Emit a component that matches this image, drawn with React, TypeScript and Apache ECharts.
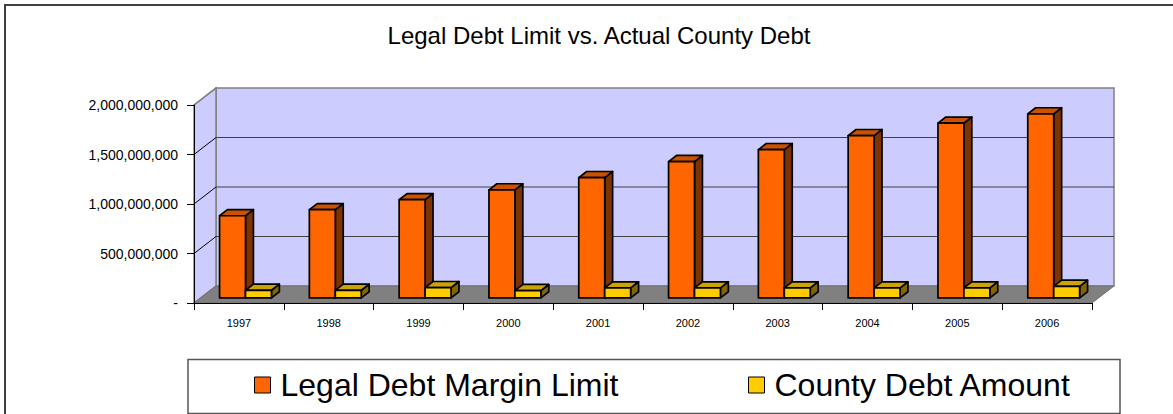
import React, { useEffect, useRef } from "react";
import * as echarts from "echarts";

const years = ["1997", "1998", "1999", "2000", "2001", "2002", "2003", "2004", "2005", "2006"];
const legalDebtMarginLimit = [830e6, 891e6, 992e6, 1091e6, 1215e6, 1377e6, 1498e6, 1639e6, 1765e6, 1859e6];
const countyDebtAmount = [77e6, 77e6, 104e6, 74e6, 101e6, 101e6, 101e6, 101e6, 101e6, 117e6];
const yTicks = [0, 500e6, 1000e6, 1500e6, 2000e6];

const SERIES_A = "Legal Debt Margin Limit";
const SERIES_B = "County Debt Amount";

// 3D projection constants (visual styling)
const DX = 22;
const DY = -17;
const BAR_F0 = 0.3;
const BAR_FD = 0.36;
const BAR_W = 26 / 90;
const FONT = "'Liberation Sans', Arial, sans-serif";

const faces = {
  a: { front: "#FF6600", top: "#CC5200", side: "#7F3300" },
  b: { front: "#FFCC00", top: "#CCA300", side: "#806600" },
};

function wallsRender(params: any, api: any) {
  const cs = params.coordSys;
  const x0 = cs.x;
  const x1 = cs.x + cs.width;
  const yT = cs.y;
  const yB = cs.y + cs.height;
  const children: any[] = [];
  children.push({
    type: "polygon",
    shape: { points: [[x0 + DX, yT + DY], [x1 + DX, yT + DY], [x1 + DX, yB + DY], [x0 + DX, yB + DY]] },
    style: { fill: "#CCCCFF", stroke: "#808080", lineWidth: 1.5 },
  });
  children.push({
    type: "polygon",
    shape: { points: [[x0, yB], [x0, yT], [x0 + DX, yT + DY], [x0 + DX, yB + DY]] },
    style: { fill: "#CCCCFF", stroke: "#808080", lineWidth: 1.5 },
  });
  children.push({
    type: "polygon",
    shape: { points: [[x0, yB], [x1, yB], [x1 + DX, yB + DY], [x0 + DX, yB + DY]] },
    style: { fill: "#808080", stroke: "#707070", lineWidth: 1 },
  });
  const maxV = yTicks[yTicks.length - 1];
  yTicks.forEach((v) => {
    const y = api.coord([0, v])[1];
    if (v > 0 && v < maxV) {
      children.push({
        type: "line",
        shape: { x1: x0 + DX, y1: y + DY, x2: x1 + DX, y2: y + DY },
        style: { stroke: "#404040", lineWidth: 1 },
      });
    }
    if (v > 0) {
      children.push({
        type: "line",
        shape: { x1: x0, y1: y, x2: x0 + DX, y2: y + DY },
        style: { stroke: v === maxV ? "#808080" : "#000", lineWidth: v === maxV ? 1.5 : 1 },
      });
    }
  });
  return { type: "group", children };
}

function makeBarRender(which: "a" | "b") {
  return (params: any, api: any) => {
    const idx = api.value(0);
    const v = api.value(1);
    const base = api.coord([idx, 0]);
    const topPt = api.coord([idx, v]);
    const cw = api.size([1, 0])[0];
    const bw = cw * BAR_W;
    const sx = DX * BAR_F0;
    const sy = DY * BAR_F0;
    const dx = DX * BAR_FD;
    const dy = DY * BAR_FD;
    const left = base[0] + (which === "a" ? -bw : 0) + sx;
    const right = left + bw;
    const bot = base[1] + sy;
    const top = topPt[1] + sy;
    const c = faces[which];
    const st = { stroke: "#000", lineWidth: 1.7, lineJoin: "round" };
    return {
      type: "group",
      children: [
        {
          type: "polygon",
          shape: { points: [[right, bot], [right, top], [right + dx, top + dy], [right + dx, bot + dy]] },
          style: { ...st, fill: c.side },
        },
        {
          type: "polygon",
          shape: { points: [[left, top], [right, top], [right + dx, top + dy], [left + dx, top + dy]] },
          style: { ...st, fill: c.top },
        },
        {
          type: "polygon",
          shape: { points: [[left, bot], [right, bot], [right, top], [left, top]] },
          style: { ...st, fill: c.front },
        },
      ],
    };
  };
}

export default function App() {
  const ref = useRef<HTMLDivElement>(null);
  useEffect(() => {
    if (!ref.current) return;
    const chart = echarts.init(ref.current, undefined, { renderer: "svg" });
    const legendBase = {
      top: 369,
      padding: 0,
      icon: "rect",
      itemWidth: 16,
      itemHeight: 16,
      selectedMode: false,
      itemStyle: { borderColor: "#000", borderWidth: 1 },
      textStyle: { fontFamily: FONT, fontSize: 32, color: "#000", padding: [0, 0, 0, 5] },
    };
    const option: any = {
      animation: false,
      backgroundColor: "#fff",
      title: {
        text: "Legal Debt Limit vs. Actual County Debt",
        left: 599,
        textAlign: "center",
        top: 23,
        padding: 0,
        textStyle: { fontFamily: FONT, fontSize: 24, fontWeight: "normal", color: "#000" },
      },
      legend: [
        { ...legendBase, data: [SERIES_A], left: 254 },
        { ...legendBase, data: [SERIES_B], left: 748 },
      ],
      grid: { left: 194, right: 81, top: 105, bottom: 111 },
      xAxis: {
        type: "category",
        data: years,
        boundaryGap: true,
        axisLine: { show: true, lineStyle: { color: "#000", width: 1 } },
        axisTick: { show: true, length: 7, interval: 0, lineStyle: { color: "#000" } },
        axisLabel: { fontFamily: FONT, fontSize: 11, color: "#000", margin: 14, interval: 0 },
        splitLine: { show: false },
        z: 10,
      },
      yAxis: {
        type: "value",
        min: 0,
        max: 2000e6,
        interval: 500e6,
        axisLine: { show: true, lineStyle: { color: "#000", width: 1 } },
        axisTick: { show: true, length: 7, lineStyle: { color: "#000" } },
        axisLabel: {
          fontFamily: FONT,
          fontSize: 14,
          color: "#000",
          margin: 16,
          formatter: (v: number) => (v === 0 ? "-" : v.toLocaleString("en-US")),
        },
        splitLine: { show: false },
        z: 10,
      },
      graphic: [
        {
          type: "rect",
          shape: { x: 5, y: 5, width: 1200, height: 500 },
          style: { fill: "none", stroke: "#404040", lineWidth: 2 },
          z: 0,
        },
        {
          type: "rect",
          shape: { x: 188, y: 359.5, width: 932, height: 54 },
          style: { fill: "#fff", stroke: "#555", lineWidth: 1.5 },
          z: 0,
        },
      ],
      series: [
        {
          type: "custom",
          name: "walls",
          renderItem: wallsRender,
          data: [[0, 0]],
          z: 1,
          silent: true,
        },
        {
          type: "custom",
          name: SERIES_A,
          renderItem: makeBarRender("a"),
          data: years.map((_, i) => [i, legalDebtMarginLimit[i]]),
          itemStyle: { color: faces.a.front },
          encode: { x: 0, y: 1 },
          z: 2,
        },
        {
          type: "custom",
          name: SERIES_B,
          renderItem: makeBarRender("b"),
          data: years.map((_, i) => [i, countyDebtAmount[i]]),
          itemStyle: { color: faces.b.front },
          encode: { x: 0, y: 1 },
          z: 3,
        },
      ],
    };
    chart.setOption(option);
    return () => chart.dispose();
  }, []);
  return <div ref={ref} style={{ position: "absolute", left: 0, top: 0, width: 1173, height: 414 }} />;
}
